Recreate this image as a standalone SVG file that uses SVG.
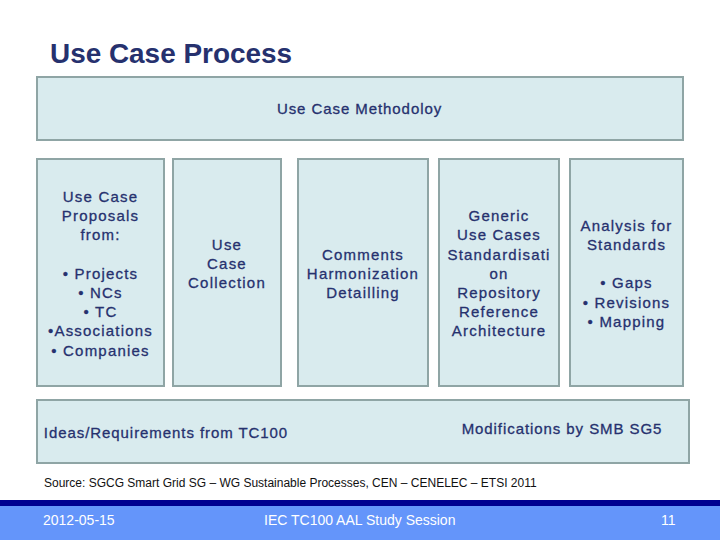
<svg xmlns="http://www.w3.org/2000/svg" width="720" height="540" viewBox="0 0 720 540">
<style>
.b{fill:#d9ebee;stroke:#8fa5a5;stroke-width:2}
.t{font-family:"Liberation Sans",Arial,sans-serif;font-size:15px;fill:#26316e;text-anchor:middle;letter-spacing:.93px;stroke:#26316e;stroke-width:.3px}
.c .t{letter-spacing:1.2px}
.s{font-family:"Liberation Sans",Arial,sans-serif;fill:#fff;font-size:14px}
</style>
<rect width="720" height="540" fill="#fff"/>
<text id="title" x="50" y="63" font-family="'Liberation Sans',Arial,sans-serif" font-size="28" font-weight="bold" fill="#26316e" textLength="242" lengthAdjust="spacingAndGlyphs">Use Case Process</text>
<g id="methodology"><rect class="b" x="37" y="77" width="646" height="63"/><text class="t" x="359.500" y="113.500">Use Case Methodoloy</text></g>
<g id="proposals" class="c"><rect class="b" x="37" y="159" width="127" height="227"/>
<text class="t" x="100.500" y="201.500">Use Case</text><text class="t" x="100.500" y="220.500">Proposals</text><text class="t" x="100.500" y="239.500">from:</text>
<text class="t" x="100.500" y="278.500">• Projects</text><text class="t" x="100.500" y="297.500">• NCs</text><text class="t" x="100.500" y="316.500">• TC</text><text class="t" x="100.500" y="335.500">•Associations</text><text class="t" x="100.500" y="355.500">• Companies</text></g>
<g id="collection" class="c"><rect class="b" x="173" y="159" width="108" height="227"/>
<text class="t" x="227" y="249.500">Use</text><text class="t" x="227" y="268.500">Case</text><text class="t" x="227" y="287.500">Collection</text></g>
<g id="comments" class="c"><rect class="b" x="298" y="159" width="130" height="227"/>
<text class="t" x="363" y="259.500">Comments</text><text class="t" x="363" y="278.500">Harmonization</text><text class="t" x="363" y="297.500">Detailling</text></g>
<g id="generic" class="c"><rect class="b" x="439" y="159" width="120" height="227"/>
<text class="t" x="499" y="220.500">Generic</text><text class="t" x="499" y="239.500">Use Cases</text><text class="t" x="499" y="259.500">Standardisati</text><text class="t" x="499" y="278.500">on</text><text class="t" x="499" y="297.500">Repository</text><text class="t" x="499" y="316.500">Reference</text><text class="t" x="499" y="335.500">Architecture</text></g>
<g id="analysis" class="c"><rect class="b" x="570" y="159" width="113" height="227"/>
<text class="t" x="626.500" y="230.500">Analysis for</text><text class="t" x="626.500" y="249.500">Standards</text>
<text class="t" x="626.500" y="287.500">• Gaps</text><text class="t" x="626.500" y="307.500">• Revisions</text><text class="t" x="626.500" y="326.500">• Mapping</text></g>
<g id="ideas"><rect class="b" x="37" y="400" width="652" height="63"/>
<text class="t" x="166" y="437.500">Ideas/Requirements from TC100</text><text class="t" x="562" y="433.500">Modifications by SMB SG5</text></g>
<text id="source" x="44" y="487" font-family="'Liberation Sans',Arial,sans-serif" font-size="12" fill="#111">Source: SGCG Smart Grid SG – WG Sustainable Processes, CEN – CENELEC – ETSI 2011</text>
<g id="footer"><rect x="0" y="506" width="720" height="34" fill="#6495fa"/><rect x="0" y="500" width="720" height="6" fill="#000090"/>
<text class="s" x="43" y="525">2012-05-15</text><text class="s" x="264" y="525">IEC TC100 AAL Study Session</text><text class="s" x="661" y="525">11</text></g>
</svg>
